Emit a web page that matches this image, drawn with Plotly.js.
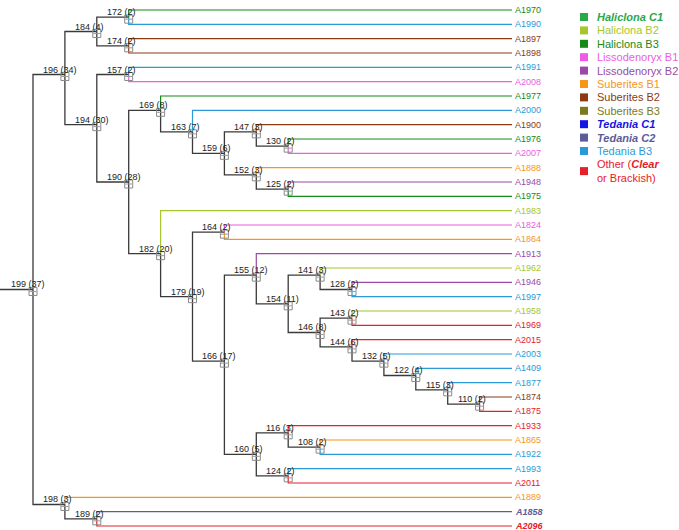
<!DOCTYPE html>
<html><head><meta charset="utf-8">
<script src="https://cdn.plot.ly/plotly-3.0.1.min.js"></script>
<style>html,body{margin:0;padding:0;background:#fff}</style>
</head><body><div id="chart" style="width:679px;height:530px"></div>
<script>
// ---- DATA ----
const leaves = ['A1970','A1990','A1897','A1898','A1991','A2008','A1977','A2000','A1900','A1976','A2007','A1888','A1948','A1975','A1983','A1824','A1864','A1913','A1962','A1946','A1997','A1958','A1969','A2015','A2003','A1409','A1877','A1874','A1875','A1933','A1865','A1922','A1993','A2011','A1889','A1858','A2096'];
const leafGroup = ['Haliclona B3','Tedania B3','Suberites B2','Suberites B2','Tedania B3','Lissodenoryx B1','Haliclona B3','Tedania B3','Suberites B2','Haliclona B3','Lissodenoryx B1','Suberites B1','Lissodenoryx B2','Haliclona B3','Haliclona B2','Lissodenoryx B1','Suberites B1','Lissodenoryx B2','Haliclona B2','Lissodenoryx B2','Tedania B3','Haliclona B2','Other','Other','Tedania B3','Tedania B3','Tedania B3','Suberites B2','Other','Other','Suberites B1','Tedania B3','Tedania B3','Other','Suberites B1','Tedania C2','Other'];
const emphasisLeaves = ['A1858','A2096'];
const groups = ['Haliclona C1','Haliclona B2','Haliclona B3','Lissodenoryx B1','Lissodenoryx B2','Suberites B1','Suberites B2','Suberites B3','Tedania C1','Tedania C2','Tedania B3','Other'];
const groupColors = ['#2aa84a','#a6c62c','#168a16','#ec5ce4','#9a4aa6','#f5961a','#8c3a14','#7a7a1e','#1414e6','#5c5c98','#2a9ad8','#e6202a'];
const groupLegendText = ['<b><i>Haliclona C1</i></b>','Haliclona B2','Haliclona B3','Lissodenoryx B1','Lissodenoryx B2','Suberites B1','Suberites B2','Suberites B3','<b><i>Tedania C1</i></b>','<b><i>Tedania C2</i></b>','Tedania B3','Other (<b><i>Clear</i></b><br>or Brackish)'];
const nodeIds    = ['172','174','184','157','130','147','125','152','159','163','169','164','128','141','143','110','115','122','132','144','146','154','155','108','116','124','160','166','179','182','190','194','196','189','198','199'];
const nodeChildA = ['A1970','A1897','172','A1991','A1976','A1900','A1948','A1888','147','A2000','A1977','A1824','A1946','A1962','A1958','A1874','A1877','A1409','A2003','A2015','143','141','A1913','A1865','A1933','A1993','116','155','164','A1983','169','157','184','A1858','A1889','196'];
const nodeChildB = ['A1990','A1898','174','A2008','A2007','130','A1975','125','152','159','163','A1864','A1997','128','A1969','A1875','110','115','122','132','144','146','154','A1922','108','A2011','124','160','166','179','182','190','194','A2096','189','198'];
const rootId = '199';

// ---- LAYOUT (pixel geometry) ----
const W = 679, H = 530;
const X0 = 33, XSTEP = 31.9, Y0 = 10, YSTEP = 14.333, XEND_PX = 512;
const xEnd = (XEND_PX - X0) / XSTEP;

const isLeaf = id => leaves.indexOf(id) >= 0;
const kids = {}; nodeIds.forEach((n,i)=>{kids[n]=[nodeChildA[i], nodeChildB[i]];});
const pos = {}; const count = {};
function place(id, depth){
  if (isLeaf(id)) { pos[id] = {x: xEnd, y: leaves.indexOf(id), d: depth}; count[id]=1; return; }
  const [a,b] = kids[id];
  place(a, depth+1); place(b, depth+1);
  const mid = (pos[a].y + pos[b].y)/2;
  pos[id] = {x: depth, y: Math.floor(mid*2+1e-9)/2, d: depth};
  count[id] = count[a] + count[b];
}
place(rootId, 0);

const colorOf = g => groupColors[groups.indexOf(g)];
const traces = [];
const ix=[], iy=[];
ix.push(-X0/XSTEP, pos[rootId].x, null); iy.push(pos[rootId].y, pos[rootId].y, null);
const leafPaths = {};
nodeIds.forEach(n=>{
  const p = pos[n];
  kids[n].forEach(c=>{
    const q = pos[c];
    if (isLeaf(c)) {
      const col = colorOf(leafGroup[leaves.indexOf(c)]);
      if(!leafPaths[col]) leafPaths[col] = {x:[],y:[]};
      leafPaths[col].x.push(p.x, p.x, xEnd, null);
      leafPaths[col].y.push(p.y, q.y, q.y, null);
    } else {
      ix.push(p.x, p.x, q.x, null); iy.push(p.y, q.y, q.y, null);
    }
  });
});
Object.keys(leafPaths).forEach(col=>{
  traces.push({type:'scatter', mode:'lines', x:leafPaths[col].x, y:leafPaths[col].y,
    line:{color:col, width:1.2}, hoverinfo:'skip', showlegend:false});
});
traces.push({type:'scatter', mode:'lines', x:ix, y:iy, line:{color:'#3a3a3a', width:1.3}, hoverinfo:'skip', showlegend:false});
const bx = nodeIds.map(n=>pos[n].x), by = nodeIds.map(n=>pos[n].y + 2/YSTEP);
traces.push({type:'scatter', mode:'markers', x:bx, y:by,
  marker:{symbol:'square-open', size:8, color:'#8a8a8a', line:{color:'#8a8a8a', width:1}}, hoverinfo:'skip', showlegend:false});
traces.push({type:'scatter', mode:'markers', x:bx, y:by,
  marker:{symbol:'line-ew', size:5, line:{color:'#9a9a9a', width:1}}, hoverinfo:'skip', showlegend:false});

const FONT = 'Liberation Sans, Arial, sans-serif';
const annotations = [];
nodeIds.forEach(n=>{
  annotations.push({x:pos[n].x, y:pos[n].y, xref:'x', yref:'y', text:n+' ('+count[n]+')',
    showarrow:false, xanchor:'left', yanchor:'bottom', xshift:-24, yshift:-2,
    font:{family:FONT, size:9, color:'#222'}});
});
leaves.forEach((l,i)=>{
  const emph = emphasisLeaves.indexOf(l)>=0;
  annotations.push({x:xEnd, y:i, xref:'x', yref:'y', text: emph?'<b><i>'+l+'</i></b>':l,
    showarrow:false, xanchor:'left', yanchor:'middle', xshift:1,
    font:{family:FONT, size:9, color:colorOf(leafGroup[i])}});
});
const shapes = [];
const LX = 584, LY0 = 17, LSTEP = 13.4;
groups.forEach((g,k)=>{
  const last = (k === groups.length-1);
  const cy = last ? LY0 + LSTEP*(k+0.5) : LY0 + LSTEP*k;
  shapes.push({type:'rect', xref:'paper', yref:'paper',
    x0:(LX-4)/W, x1:(LX+4)/W, y0:1-(cy+4)/H, y1:1-(cy-4)/H,
    fillcolor:groupColors[k], line:{width:0}});
  annotations.push({xref:'paper', yref:'paper', x:(LX+11)/W, y:1-cy/H, text:groupLegendText[k],
    showarrow:false, xanchor:'left', yanchor:'middle', align:'left',
    font:{family:FONT, size:11, color:groupColors[k]}});
});

const layout = {
  width:W, height:H, margin:{l:0,r:0,t:0,b:0}, paper_bgcolor:'#fff', plot_bgcolor:'#fff',
  xaxis:{range:[-X0/XSTEP, (W-X0)/XSTEP], visible:false, fixedrange:true},
  yaxis:{range:[(H-Y0)/YSTEP, -Y0/YSTEP], visible:false, fixedrange:true},
  annotations, shapes, showlegend:false
};
Plotly.newPlot('chart', traces, layout, {staticPlot:true});
</script></body></html>
